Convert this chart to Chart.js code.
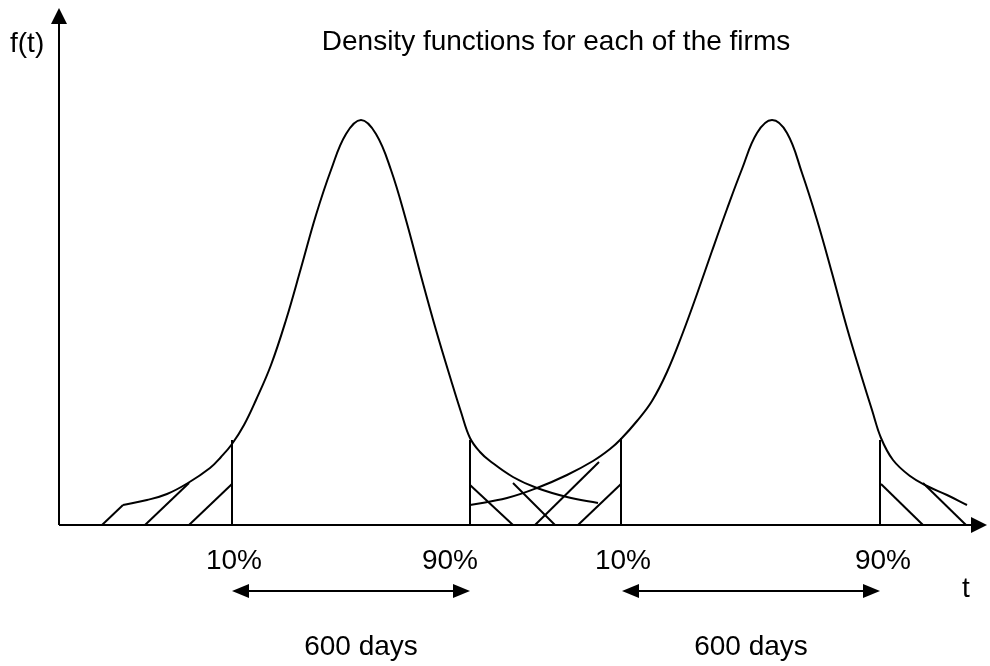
<!DOCTYPE html>
<html><head><meta charset="utf-8">
<script src="https://cdn.jsdelivr.net/npm/chart.js@4/dist/chart.umd.min.js"></script>
<style>html,body{margin:0;padding:0;background:#fff;}#wrap{width:990px;height:666px;}</style>
</head><body><div id="wrap"><canvas id="c" width="990" height="666"></canvas></div>
<script>
// ---- data (t = time units along axis, f = density units) ----
const firm1T = [64,88,108,129,151,162,173,185,197,212,227,242,257,272,287,302,317,332,347,362,377,392,402,411,421,431,454,478,508,539];
const firm1F = [20,25,31,42,57,68,81,100,125,160,205,257,310,355,391,405,391,355,305,249,195,145,113,87,73,64,48,37,28,22];
const firm2T = [411,448,478,508,534,551,562,578,593,608,623,638,653,668,683,698,713,728,743,758,773,788,803,813,822,834,851,868,888,908];
const firm2F = [20,27,37,50,64,76,86,104,124,153,190,231,274,316,356,392,405,392,352,305,252,197,147,115,87,65,49,39,30,20];
const quantileT = [173, 411, 562, 821];
const quantileTop = [85, 85, 87, 85];
const quantileLabels = ['10%', '90%', '10%', '90%'];
const hatchStartT = [43, 86, 130, 411, 454, 476, 519, 822, 864];
const hatchStartF = [0, 0, 0, 40, 42, 0, 0, 41, 42];
const hatchEndT   = [64, 130, 173, 454, 496, 540, 562, 864, 907];
const hatchEndF   = [20, 42, 41, 0, 0, 63, 41, 0, 0];
const spanStart = [173, 563];
const spanEnd = [411, 821];
const spanLabels = ['600 days', '600 days'];
const tAxisMax = 928;
const fAxisMax = 517;
const titleText = 'Density functions for each of the firms';
const yAxisLabel = 'f(t)';
const xAxisLabel = 't';

// ---- layout / style ----
const FONT = '28px "Liberation Sans", Arial, sans-serif';
const SPAN_F = -66;            // level of the span arrows (below the t axis)
const quantLabelDx = [2, -20, 2, 3];
const spanLabelDx = [10, 0];

const pts = (xs, ys) => xs.map((v, i) => ({x: v, y: ys[i]}));
const lineDs = (data, extra) => Object.assign({
  data, borderColor: '#000', borderWidth: 2, pointRadius: 0, fill: false, tension: 0
}, extra || {});

const datasets = [];
datasets.push(lineDs(pts([0, 0], [0, fAxisMax - 8])));
datasets.push(lineDs(pts([0, tAxisMax - 8], [0, 0])));
datasets.push(lineDs(pts(firm1T, firm1F), {tension: 0.4}));
datasets.push(lineDs(pts(firm2T, firm2F), {tension: 0.4}));
quantileT.forEach((t, i) => datasets.push(lineDs(pts([t, t], [0, quantileTop[i]]))));
hatchStartT.forEach((t, i) => datasets.push(lineDs(pts([t, hatchEndT[i]], [hatchStartF[i], hatchEndF[i]]))));
spanStart.forEach((s, i) => datasets.push(lineDs(pts([s + 10, spanEnd[i] - 10], [SPAN_F, SPAN_F]))));

function tri(ctx, tx, ty, dx, dy, len, half) {
  const bx = tx - dx * len, by = ty - dy * len;
  const nx = -dy, ny = dx;
  ctx.beginPath();
  ctx.moveTo(tx, ty);
  ctx.lineTo(bx + nx * half, by + ny * half);
  ctx.lineTo(bx - nx * half, by - ny * half);
  ctx.closePath();
  ctx.fill();
}

const overlay = {
  id: 'overlay',
  afterDatasetsDraw(chart) {
    const ctx = chart.ctx, xs = chart.scales.x, ys = chart.scales.y;
    const X = v => xs.getPixelForValue(v), Y = v => ys.getPixelForValue(v);
    ctx.save();
    ctx.fillStyle = '#000';
    tri(ctx, X(0), Y(fAxisMax), 0, -1, 16, 8);
    tri(ctx, X(tAxisMax), Y(0), 1, 0, 16, 8);
    spanStart.forEach((s, i) => {
      tri(ctx, X(s), Y(SPAN_F), -1, 0, 17, 7);
      tri(ctx, X(spanEnd[i]), Y(SPAN_F), 1, 0, 17, 7);
    });
    ctx.font = FONT;
    ctx.textBaseline = 'alphabetic';
    ctx.textAlign = 'center';
    quantileT.forEach((t, i) => ctx.fillText(quantileLabels[i], X(t) + quantLabelDx[i], Y(0) + 44));
    spanStart.forEach((s, i) => ctx.fillText(spanLabels[i], (X(s) + X(spanEnd[i])) / 2 + spanLabelDx[i], Y(0) + 130));
    ctx.fillText(xAxisLabel, X(tAxisMax) - 21, Y(0) + 72);
    ctx.fillText(titleText, 556, Y(fAxisMax) + 42);
    ctx.textAlign = 'left';
    ctx.fillText(yAxisLabel, 10, Y(fAxisMax) + 44);
    ctx.restore();
  }
};

new Chart(document.getElementById('c'), {
  type: 'line',
  data: {datasets},
  options: {
    responsive: false,
    animation: false,
    events: [],
    layout: {padding: 0},
    plugins: {legend: {display: false}, tooltip: {enabled: false}, title: {display: false}},
    scales: {
      x: {type: 'linear', min: -59, max: 931, display: false},
      y: {type: 'linear', min: -141, max: 525, display: false}
    },
    elements: {line: {borderCapStyle: 'butt'}}
  },
  plugins: [overlay]
});
</script>
</body></html>
